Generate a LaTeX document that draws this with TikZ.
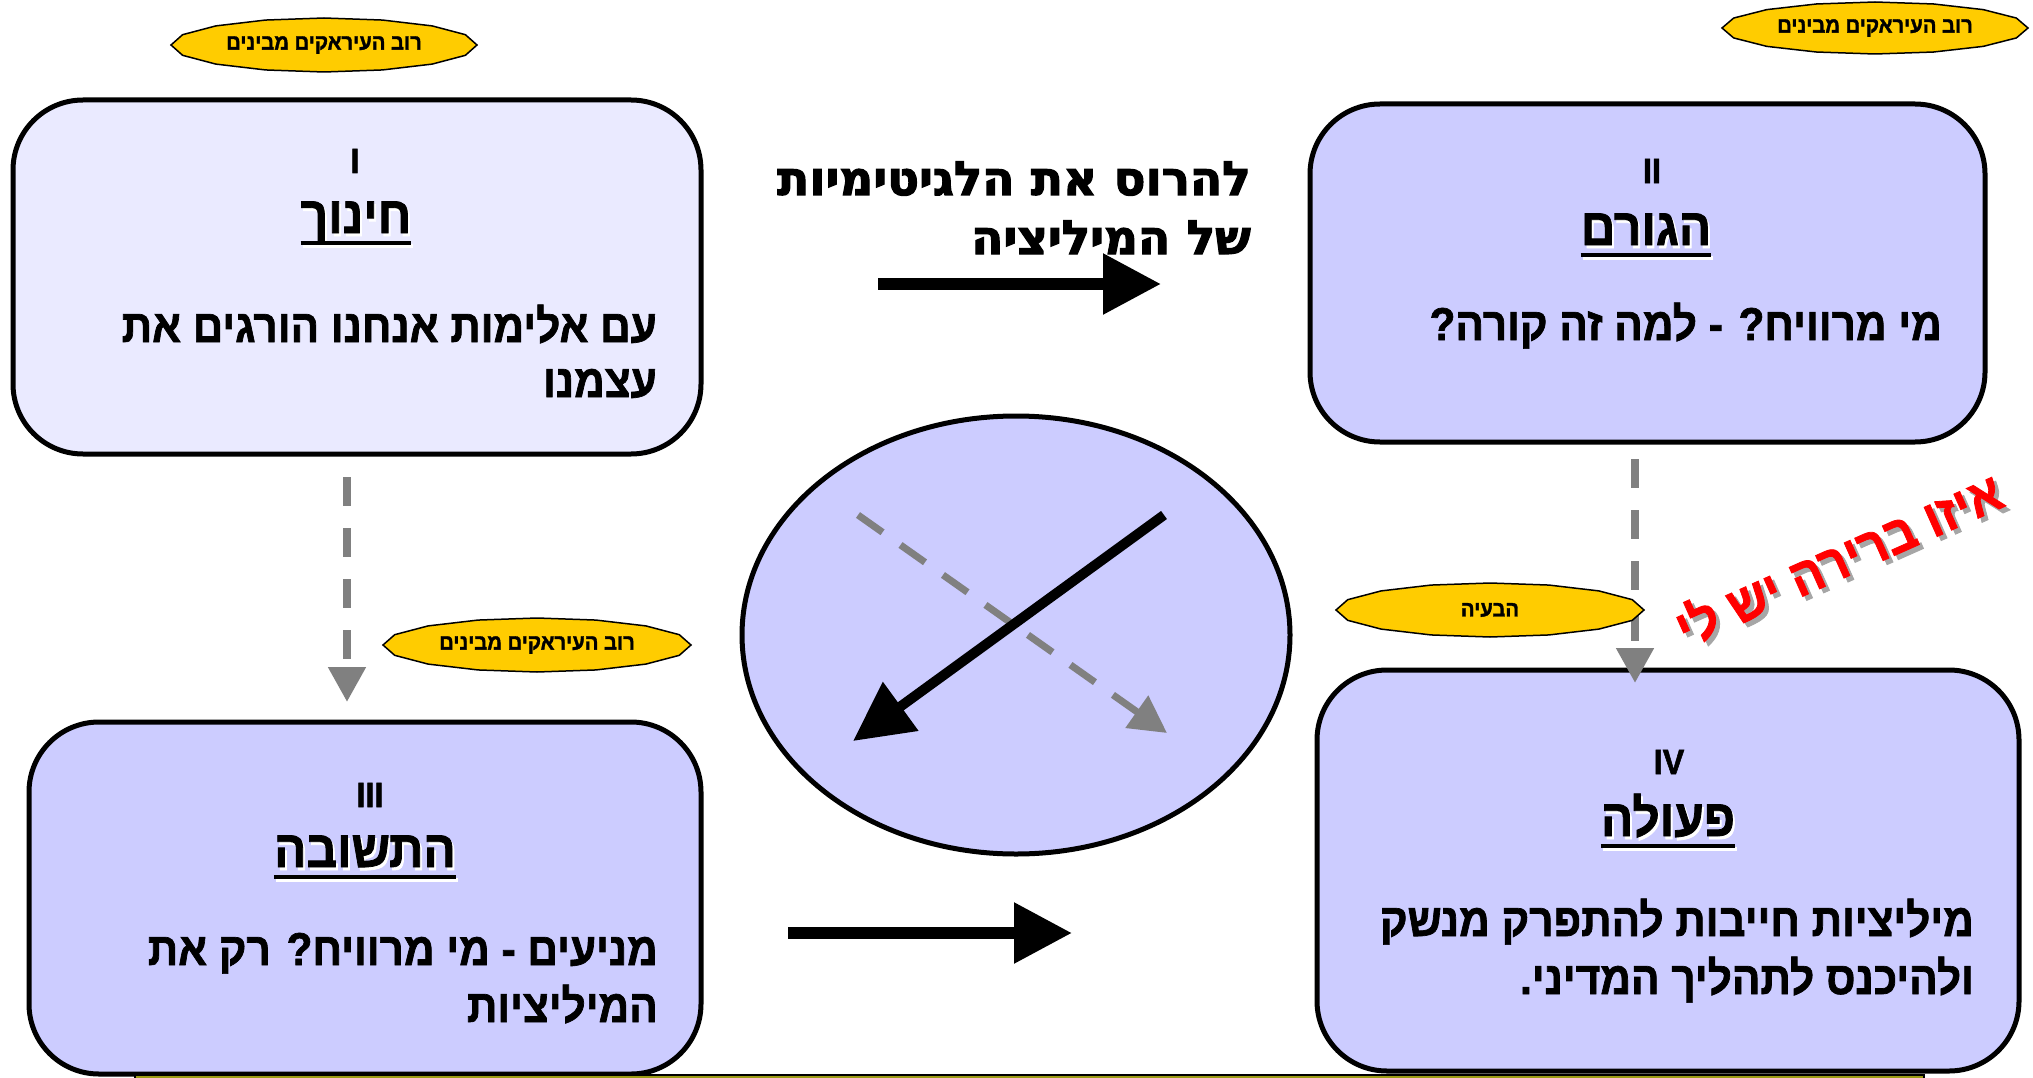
\documentclass[tikz,border=0pt]{standalone}
\usepackage{fontspec}
\usetikzlibrary{arrows.meta,shapes.geometric}
\TeXXeTstate=1
\newfontfamily\heb[Script=Hebrew, FakeStretch=0.92, BoldFeatures={FakeBold=1.5}]{Liberation Sans}
\newfontfamily\hebo[Script=Hebrew, BoldFeatures={FakeBold=2.5}]{DejaVu Sans}
\definecolor{boxlight}{HTML}{EAEAFF}
\definecolor{boxblue}{HTML}{CCCCFF}
\definecolor{badgey}{HTML}{FFCC00}
\definecolor{barolive}{HTML}{9C9C14}
\definecolor{arrgray}{HTML}{808080}
\tikzset{
  box/.style={draw=black, line width=5pt, rounded corners=70pt, inner sep=0pt, outer sep=0pt},
  numst/.style={font=\heb\bfseries\fontsize{35}{40}\selectfont, anchor=base, inner sep=0pt},
  titlest/.style={font=\heb\bfseries\fontsize{52}{60}\selectfont, anchor=base, inner sep=0pt},
  bodyst/.style={font=\heb\bfseries\fontsize{46}{54}\selectfont, anchor=base east, inner sep=0pt},
  topst/.style={font=\hebo\bfseries\fontsize{47}{54}\selectfont, anchor=base east, inner sep=0pt},
  redst/.style={font=\heb\bfseries\fontsize{53}{60}\selectfont, inner sep=0pt},
  badgetext/.style={font=\heb\bfseries\fontsize{22}{26}\selectfont, inner sep=0pt},
  badge/.style={fill=badgey, draw=black, line width=1.5pt},
  blackarrow/.style={line width=12pt, -{Triangle[length=58pt,width=58pt]}},
  grayarrow/.style={draw=arrgray, line width=8pt, dash pattern=on 29pt off 22pt, -{Triangle[length=35pt,width=36pt]}},
  ulinest/.style={line width=4pt},
  shadowtxt/.style={text=white}
}
\begin{document}
\begin{tikzpicture}[x=1pt,y=-1pt]
\useasboundingbox (0,0) rectangle (2033,1078);
\fill[white] (0,0) rectangle (2033,1078);

% boxes
\node[box, fill=boxlight, minimum width=688pt, minimum height=354pt] (b1) at (357,277) {};
\node[box, fill=boxblue, minimum width=675pt, minimum height=338pt] (b2) at (1647.5,273) {};
\node[box, fill=boxblue, minimum width=672pt, minimum height=352pt] (b3) at (365,898) {};
\node[box, fill=boxblue, minimum width=702pt, minimum height=401pt] (b4) at (1668,870.5) {};
\node[ellipse, draw=black, line width=5pt, fill=boxblue, minimum width=548pt, minimum height=438pt, inner sep=0pt] (el) at (1016,635) {};

% box I
\node[numst] (n1) at (355,173) {I};
\node[titlest, shadowtxt] (t1s) at (358,236) {\beginR חינוך\endR};
\node[titlest] (t1) at (356,233) {\beginR חינוך\endR};
\draw[ulinest, white] ([xshift=2pt,yshift=-13pt]t1.base west) -- ([xshift=2pt,yshift=-13pt]t1.base east);
\draw[ulinest] ([yshift=-10pt]t1.base west) -- ([yshift=-10pt]t1.base east);
\node[bodyst] (c1a) at (657,342) {\beginR עם אלימות אנחנו הורגים את\endR};
\node[bodyst] (c1b) at (657,397) {\beginR עצמנו\endR};

% box II
\node[numst] (n2) at (1652,183) {II};
\node[titlest, shadowtxt] (t2s) at (1648,248) {\beginR הגורם\endR};
\node[titlest] (t2) at (1646,245) {\beginR הגורם\endR};
\draw[ulinest, white] ([xshift=2pt,yshift=-13pt]t2.base west) -- ([xshift=2pt,yshift=-13pt]t2.base east);
\draw[ulinest] ([yshift=-10pt]t2.base west) -- ([yshift=-10pt]t2.base east);
\node[bodyst] (c2a) at (1942,340) {\beginR מי מרוויח? - למה זה קורה?\endR};

% box III
\node[numst] (n3) at (370,807) {III};
\node[titlest, shadowtxt] (t3s) at (367,870) {\beginR התשובה\endR};
\node[titlest] (t3) at (365,867) {\beginR התשובה\endR};
\draw[ulinest, white] ([xshift=2pt,yshift=-13pt]t3.base west) -- ([xshift=2pt,yshift=-13pt]t3.base east);
\draw[ulinest] ([yshift=-10pt]t3.base west) -- ([yshift=-10pt]t3.base east);
\node[bodyst] (c3a) at (658,965) {\beginR מניעים - מי מרוויח? רק את\endR};
\node[bodyst] (c3b) at (658,1022) {\beginR המיליציות\endR};

% box IV
\node[numst] (n4) at (1669,774) {IV};
\node[titlest, shadowtxt] (t4s) at (1670,839) {\beginR פעולה\endR};
\node[titlest] (t4) at (1668,836) {\beginR פעולה\endR};
\draw[ulinest, white] ([xshift=2pt,yshift=-13pt]t4.base west) -- ([xshift=2pt,yshift=-13pt]t4.base east);
\draw[ulinest] ([yshift=-10pt]t4.base west) -- ([yshift=-10pt]t4.base east);
\node[bodyst] (c4a) at (1974,936) {\beginR מיליציות חייבות להתפרק מנשק\endR};
\node[bodyst] (c4b) at (1974,994) {\beginR ולהיכנס לתהליך המדיני.\endR};

% top text
\node[topst] (tt1) at (1251,195) {\beginR להרוס את הלגיטימיות\endR};
\node[topst] (tt2) at (1251,254) {\beginR של המיליציה\endR};

% black arrows
\coordinate (a1s) at (878,284); \coordinate (a1e) at (1161,284);
\draw[blackarrow] (a1s) -- (a1e);
\coordinate (a2s) at (788,933); \coordinate (a2e) at (1072,933);
\draw[blackarrow] (a2s) -- (a2e);

% gray dashed vertical arrows
\coordinate (d1s) at (347,477); \coordinate (d1e) at (347,702);
\draw[grayarrow] (d1s) -- (d1e);
\coordinate (d2s) at (1635,459); \coordinate (d2e) at (1635,683);
\draw[grayarrow] (d2s) -- (d2e);

% arrows in ellipse
\coordinate (e1s) at (858,515); \coordinate (e1e) at (1167,733);
\draw[draw=arrgray, line width=7pt, dash pattern=on 30pt off 22pt, -{Triangle[length=37pt,width=38pt]}] (e1s) -- (e1e);
\coordinate (e2s) at (1164,515); \coordinate (e2e) at (853,741);
\draw[line width=10pt, -{Triangle[length=59pt,width=58pt]}] (e2s) -- (e2e);

% badges
\draw[badge, shift={(324,45)}] plot[samples=17, domain=0:360, variable=\t] ({153*cos(\t)},{27*sin(\t)}) -- cycle;
\node[badgetext] (bd1) at (324,45) {\beginR רוב העיראקים מבינים\endR};
\draw[badge, shift={(1875,28)}] plot[samples=17, domain=0:360, variable=\t] ({153*cos(\t)},{26*sin(\t)}) -- cycle;
\node[badgetext] (bd2) at (1875,28) {\beginR רוב העיראקים מבינים\endR};
\draw[badge, shift={(537,645)}] plot[samples=17, domain=0:360, variable=\t] ({154*cos(\t)},{27*sin(\t)}) -- cycle;
\node[badgetext] (bd3) at (537,645) {\beginR רוב העיראקים מבינים\endR};
\draw[badge, shift={(1490,610)}] plot[samples=17, domain=0:360, variable=\t] ({154*cos(\t)},{27*sin(\t)}) -- cycle;
\node[badgetext] (bd4) at (1490,610) {\beginR הבעיה\endR};

% red rotated text
\node[redst, rotate=24, text=black!35] (rs) at (1842,562) {\beginR איזו ברירה יש לי\endR};
\node[redst, rotate=24, text=red] (rt) at (1838,558) {\beginR איזו ברירה יש לי\endR};

% bottom bar
\draw[fill=barolive, line width=1.5pt] (135,1075) rectangle (1924,1084);
\end{tikzpicture}
\end{document}
